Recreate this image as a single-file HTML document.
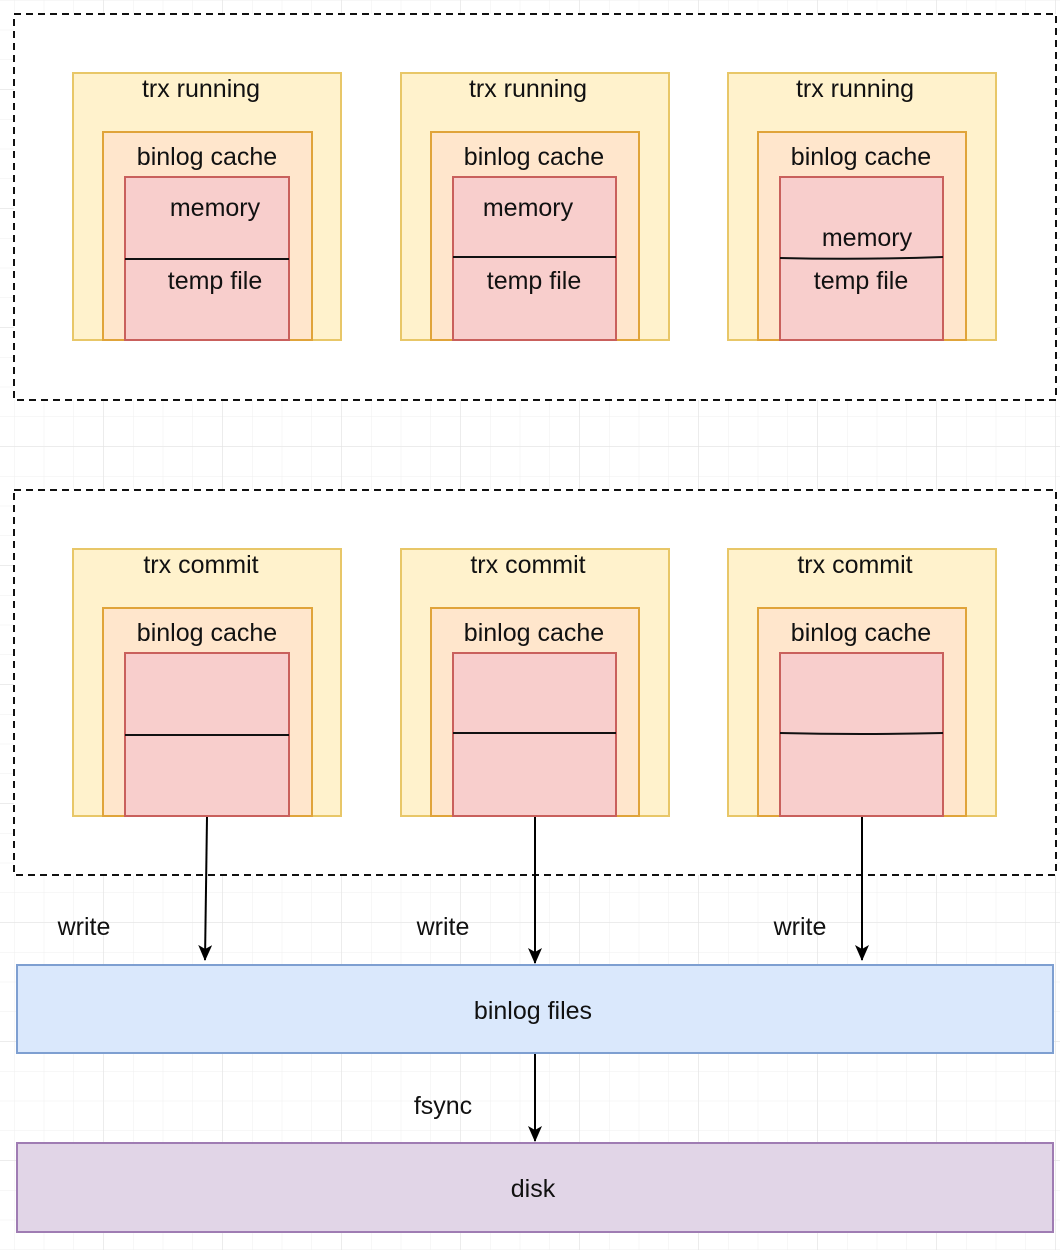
<!DOCTYPE html>
<html><head><style>body{margin:0;background:#fff}svg{display:block}text{font-family:"Liberation Sans",Arial,sans-serif;font-size:25px;fill:#111}</style></head>
<body>
<svg width="1060" height="1250" viewBox="0 0 1060 1250" xmlns="http://www.w3.org/2000/svg">
<defs>
<pattern id="g" x="14" y="0" width="29.75" height="29.75" patternUnits="userSpaceOnUse"><path d="M0 0V29.75M0 0H29.75" stroke="#efefef" stroke-width="1" fill="none"/></pattern>
<pattern id="G" x="-16" y="-30" width="119" height="119" patternUnits="userSpaceOnUse"><path d="M0 0V119M0 0H119" stroke="#e2e2e2" stroke-width="1" fill="none"/></pattern>
<marker id="a" markerWidth="16" markerHeight="14" refX="15" refY="7" orient="auto" markerUnits="userSpaceOnUse"><path d="M0 0L16 7L0 14L4 7Z" fill="#000"/></marker>
</defs>
<rect width="1060" height="1250" fill="url(#g)"/>
<rect width="1060" height="1250" fill="url(#G)"/>
<rect x="14" y="14" width="1042" height="386" fill="#fff" stroke="#111" stroke-width="2" stroke-dasharray="7,5"/>
<rect x="14" y="490" width="1042" height="385" fill="#fff" stroke="#111" stroke-width="2" stroke-dasharray="7,5"/>
<g stroke-width="2">
<rect x="73" y="73" width="268" height="267" fill="#fff2cc" stroke="#e8c768"/>
<rect x="103" y="132" width="209" height="208" fill="#ffe6cc" stroke="#e0a43a"/>
<rect x="125" y="177" width="164" height="163" fill="#f8cecc" stroke="#c9605c"/>
<rect x="401" y="73" width="268" height="267" fill="#fff2cc" stroke="#e8c768"/>
<rect x="431" y="132" width="208" height="208" fill="#ffe6cc" stroke="#e0a43a"/>
<rect x="453" y="177" width="163" height="163" fill="#f8cecc" stroke="#c9605c"/>
<rect x="728" y="73" width="268" height="267" fill="#fff2cc" stroke="#e8c768"/>
<rect x="758" y="132" width="208" height="208" fill="#ffe6cc" stroke="#e0a43a"/>
<rect x="780" y="177" width="163" height="163" fill="#f8cecc" stroke="#c9605c"/>
<rect x="73" y="549" width="268" height="267" fill="#fff2cc" stroke="#e8c768"/>
<rect x="103" y="608" width="209" height="208" fill="#ffe6cc" stroke="#e0a43a"/>
<rect x="125" y="653" width="164" height="163" fill="#f8cecc" stroke="#c9605c"/>
<rect x="401" y="549" width="268" height="267" fill="#fff2cc" stroke="#e8c768"/>
<rect x="431" y="608" width="208" height="208" fill="#ffe6cc" stroke="#e0a43a"/>
<rect x="453" y="653" width="163" height="163" fill="#f8cecc" stroke="#c9605c"/>
<rect x="728" y="549" width="268" height="267" fill="#fff2cc" stroke="#e8c768"/>
<rect x="758" y="608" width="208" height="208" fill="#ffe6cc" stroke="#e0a43a"/>
<rect x="780" y="653" width="163" height="163" fill="#f8cecc" stroke="#c9605c"/>
<rect x="17" y="965" width="1036" height="88" fill="#dae8fc" stroke="#7e9fd1"/>
<rect x="17" y="1143" width="1036" height="89" fill="#e1d5e7" stroke="#9f7cb3"/>
</g>
<g stroke="#111" stroke-width="2" fill="none">
<path d="M125 259H289"/><path d="M453 257H616"/><path d="M780 258Q860 260 943 257"/>
<path d="M125 735H289"/><path d="M453 733H616"/><path d="M780 733Q860 735 943 733"/>
</g>
<g stroke="#000" stroke-width="2" fill="none" marker-end="url(#a)">
<path d="M207 817L205 960"/><path d="M535 817V963"/><path d="M862 817V960"/><path d="M535 1054V1141"/>
</g>
<g text-anchor="middle">
<text x="201" y="97">trx running</text><text x="528" y="97">trx running</text><text x="855" y="97">trx running</text>
<text x="207" y="165">binlog cache</text><text x="534" y="165">binlog cache</text><text x="861" y="165">binlog cache</text>
<text x="215" y="216">memory</text><text x="528" y="216">memory</text><text x="867" y="246">memory</text>
<text x="215" y="289">temp file</text><text x="534" y="289">temp file</text><text x="861" y="289">temp file</text>
<text x="201" y="573">trx commit</text><text x="528" y="573">trx commit</text><text x="855" y="573">trx commit</text>
<text x="207" y="641">binlog cache</text><text x="534" y="641">binlog cache</text><text x="861" y="641">binlog cache</text>
<text x="84" y="935">write</text><text x="443" y="935">write</text><text x="800" y="935">write</text>
<text x="533" y="1019">binlog files</text>
<text x="443" y="1114">fsync</text>
<text x="533" y="1197">disk</text>
</g>
</svg>
</body></html>
